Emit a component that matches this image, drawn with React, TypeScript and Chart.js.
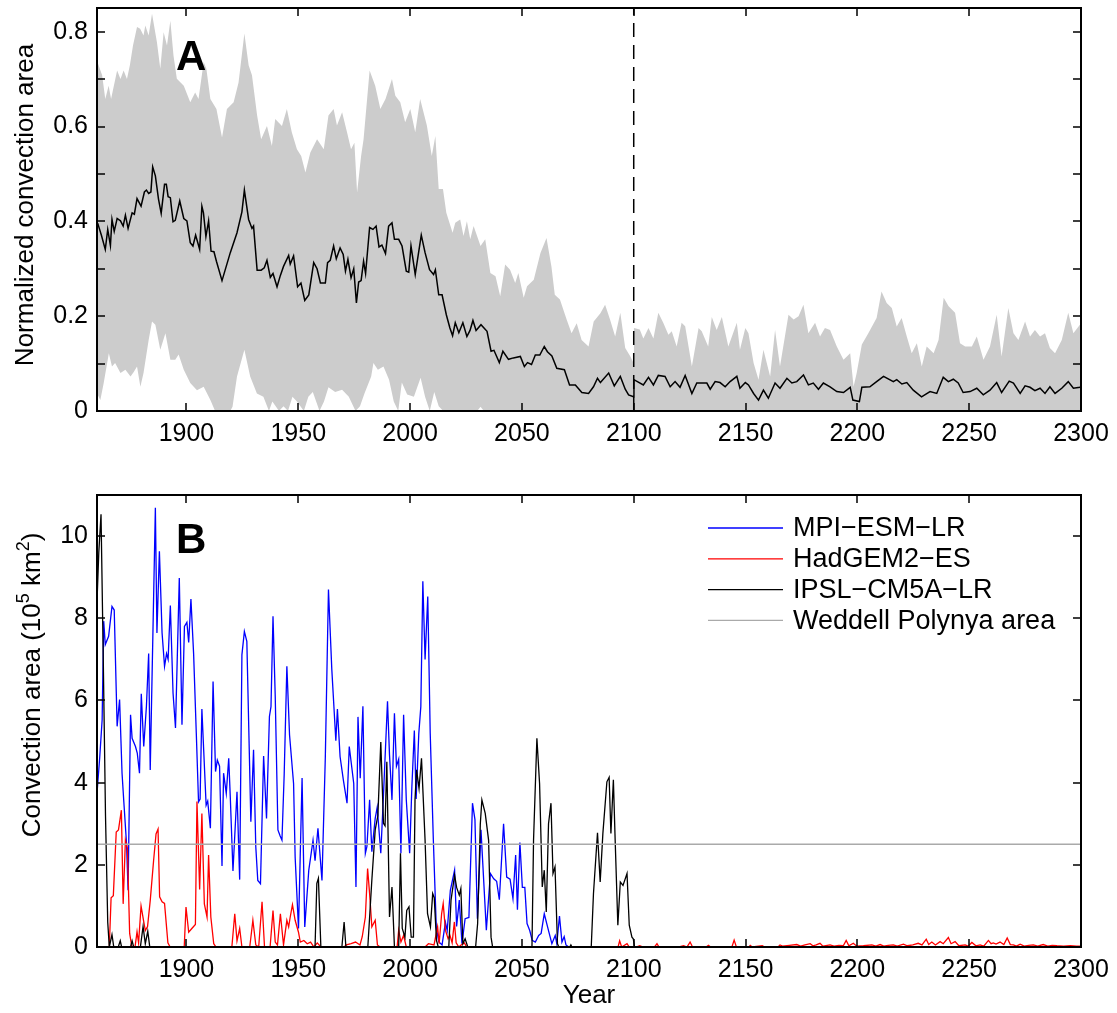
import React, { useEffect, useRef } from "react";
import { Chart, registerables } from "chart.js";

Chart.register(...registerables);

const FONT = '"Liberation Sans", Arial, Helvetica, sans-serif';
Chart.defaults.font.family = FONT;
Chart.defaults.color = "#000";

// ---------- shared axis ticks ----------
const xTicks = [1900, 1950, 2000, 2050, 2100, 2150, 2200, 2250, 2300];
const xLabels = ["1900", "1950", "2000", "2050", "2100", "2150", "2200", "2250", "2300"];

// ---------- panel A ----------
const yTicksA = [0, 0.1, 0.2, 0.3, 0.4, 0.5, 0.6, 0.7, 0.8];
const yLabelsA = ["0", "", "0.2", "", "0.4", "", "0.6", "", "0.8"];
const yTitleA = [{ t: "Normalized convection area", sup: false }];

const meanLine: [number, number][] = [
  [1860.3, 0.396], [1862, 0.37], [1863.7, 0.341], [1864.8, 0.383], [1866, 0.349], [1866.7, 0.404], [1867.7, 0.379],
  [1869, 0.406], [1870.5, 0.401], [1871.7, 0.39], [1872.7, 0.413], [1873.9, 0.385], [1875.7, 0.418], [1876.7, 0.415],
  [1877.9, 0.448], [1879.7, 0.432], [1881.2, 0.462], [1882.1, 0.466], [1883.1, 0.459], [1884.1, 0.462], [1884.9, 0.515],
  [1886.1, 0.496], [1887.5, 0.447], [1888.7, 0.417], [1890.2, 0.478], [1891, 0.478], [1891.8, 0.452], [1892.8, 0.45],
  [1894, 0.399], [1895, 0.402], [1897, 0.443], [1898.8, 0.406], [1900.2, 0.401], [1901.7, 0.355], [1902.9, 0.348],
  [1904.1, 0.371], [1905.9, 0.341], [1906.9, 0.432], [1907.6, 0.418], [1908.7, 0.368], [1909.9, 0.401], [1911, 0.337],
  [1912.3, 0.336], [1913.4, 0.316], [1915.9, 0.275], [1919.6, 0.334], [1922.6, 0.376], [1924.8, 0.42], [1925.9, 0.466],
  [1927.8, 0.404], [1929.3, 0.385], [1930, 0.39], [1931.6, 0.297], [1933.4, 0.297], [1934.8, 0.302], [1936, 0.318],
  [1937.5, 0.282], [1938.7, 0.29], [1940.5, 0.262], [1942, 0.286], [1943.4, 0.305], [1945.7, 0.328], [1946.4, 0.31],
  [1947.9, 0.327], [1949.7, 0.262], [1951.2, 0.27], [1952.9, 0.233], [1954.7, 0.245], [1956.9, 0.313], [1958.4, 0.3],
  [1959.9, 0.27], [1962.1, 0.27], [1963.1, 0.313], [1964.3, 0.318], [1965.8, 0.348], [1967, 0.321], [1968.7, 0.344],
  [1970.1, 0.33], [1971.1, 0.295], [1972.2, 0.32], [1973.6, 0.281], [1974.8, 0.3], [1976, 0.228], [1977, 0.272],
  [1978.1, 0.275], [1979.2, 0.316], [1980.1, 0.29], [1981.9, 0.387], [1983.4, 0.383], [1984.8, 0.39], [1986.1, 0.346],
  [1987.4, 0.35], [1989, 0.332], [1990.4, 0.39], [1991.9, 0.397], [1993, 0.362], [1994.9, 0.362], [1996.4, 0.348],
  [1998.3, 0.295], [1999.4, 0.293], [2000.4, 0.348], [2002.3, 0.288], [2005, 0.371], [2006.7, 0.334], [2008.7, 0.298],
  [2010.5, 0.288], [2011.3, 0.298], [2012.8, 0.245], [2014.3, 0.245], [2016.2, 0.203], [2017.8, 0.175], [2019, 0.159],
  [2020.2, 0.186], [2021.8, 0.165], [2023.6, 0.186], [2025.4, 0.157], [2026.8, 0.17], [2028.1, 0.191], [2029.5, 0.17],
  [2031.7, 0.182], [2034.4, 0.168], [2036.2, 0.126], [2037.5, 0.128], [2039.9, 0.102], [2041.5, 0.126], [2044, 0.109],
  [2046.2, 0.112], [2049.3, 0.115], [2051.1, 0.094], [2052.5, 0.102], [2054.3, 0.098], [2056, 0.118], [2058, 0.118],
  [2060, 0.136], [2061.4, 0.125], [2063.4, 0.116], [2065.6, 0.09], [2069, 0.087], [2071.3, 0.055], [2073.9, 0.055],
  [2076.8, 0.039], [2079.8, 0.037], [2082, 0.051], [2083.8, 0.069], [2085.1, 0.06], [2088.8, 0.08], [2091.3, 0.053],
  [2094, 0.073], [2096.2, 0.046], [2097.7, 0.034], [2099.9, 0.03], [2100.1, 0.066], [2104.3, 0.055], [2106.6, 0.071],
  [2108.8, 0.055], [2111, 0.075], [2114, 0.073], [2116.3, 0.051], [2118.5, 0.062], [2120.7, 0.05], [2123, 0.075],
  [2126, 0.037], [2128.2, 0.059], [2132.7, 0.059], [2134.2, 0.046], [2136.4, 0.062], [2138.6, 0.06], [2140.9, 0.051],
  [2143.1, 0.062], [2146.1, 0.073], [2147.5, 0.048], [2149.9, 0.06], [2151.3, 0.055], [2153.6, 0.037], [2155.8, 0.023],
  [2158, 0.044], [2160.2, 0.027], [2163.2, 0.059], [2165.4, 0.048], [2168.5, 0.069], [2170.7, 0.059], [2172.9, 0.062],
  [2175.9, 0.076], [2178.1, 0.055], [2180.3, 0.059], [2182.6, 0.046], [2184.8, 0.059], [2187.8, 0.051], [2190.8, 0.041],
  [2193.8, 0.039], [2196.8, 0.05], [2198, 0.023], [2200.9, 0.02], [2202, 0.05], [2205.6, 0.051], [2208.6, 0.062],
  [2211.7, 0.073], [2216.1, 0.062], [2217.6, 0.066], [2219.9, 0.057], [2222.1, 0.06], [2225, 0.044], [2228.7, 0.03],
  [2232.5, 0.041], [2235.5, 0.037], [2238.4, 0.071], [2240.7, 0.062], [2242.9, 0.067], [2245.1, 0.059], [2247.3, 0.039],
  [2250.4, 0.041], [2253.4, 0.048], [2256.3, 0.034], [2259.3, 0.044], [2262.3, 0.06], [2264.5, 0.039], [2267.9, 0.063],
  [2269.8, 0.059], [2272.8, 0.037], [2275, 0.053], [2277.2, 0.05], [2279.4, 0.043], [2281.7, 0.048], [2283.9, 0.037],
  [2286.1, 0.051], [2288.4, 0.037], [2291.4, 0.048], [2294.3, 0.062], [2296.6, 0.048], [2299.5, 0.05], [2300, 0.052],
];

const upperBand: [number, number][] = [
  [1860, 0.739], [1862.3, 0.708], [1863.7, 0.658], [1865.2, 0.686], [1866.3, 0.658], [1867.4, 0.683], [1869, 0.718],
  [1870.5, 0.7], [1871.9, 0.718], [1873.4, 0.7], [1874.7, 0.729], [1876.1, 0.771], [1877.9, 0.81], [1879.3, 0.806],
  [1880.8, 0.792], [1881.6, 0.813], [1883.1, 0.792], [1884.6, 0.838], [1886.8, 0.778], [1888.3, 0.722], [1889.8, 0.799],
  [1891.3, 0.771], [1892.8, 0.823], [1894.2, 0.75], [1895.7, 0.701], [1898.8, 0.686], [1901.7, 0.651], [1903.9, 0.672],
  [1905.4, 0.658], [1907.7, 0.736], [1908.9, 0.722], [1910.7, 0.658], [1913.4, 0.637], [1915.9, 0.577], [1918.1, 0.637],
  [1921.1, 0.651], [1923.3, 0.693], [1925.9, 0.796], [1927.8, 0.729], [1929.3, 0.708], [1931.6, 0.623], [1933.4, 0.573],
  [1936, 0.601], [1938.2, 0.559], [1939.7, 0.616], [1942.7, 0.601], [1944.9, 0.637], [1947.1, 0.588], [1949.4, 0.552],
  [1951.3, 0.538], [1953.2, 0.503], [1955.4, 0.545], [1958.4, 0.573], [1961.4, 0.552], [1963.5, 0.623], [1965.8, 0.637],
  [1967.3, 0.602], [1969.6, 0.63], [1971.8, 0.588], [1973.6, 0.552], [1975.1, 0.566], [1976.3, 0.461], [1978.1, 0.538],
  [1979.2, 0.573], [1981.9, 0.718], [1984.4, 0.686], [1986.7, 0.637], [1989, 0.658], [1991.9, 0.7], [1993.4, 0.665],
  [1995.6, 0.651], [1997.8, 0.609], [2000.1, 0.637], [2002.3, 0.588], [2004.5, 0.658], [2007.5, 0.602], [2009.7, 0.538],
  [2011.3, 0.58], [2012.8, 0.468], [2014.7, 0.468], [2016.2, 0.418], [2019, 0.376], [2020.2, 0.397], [2022.4, 0.404],
  [2023.9, 0.369], [2025.4, 0.4], [2026.9, 0.362], [2028.4, 0.39], [2031.5, 0.348], [2033.6, 0.362], [2035.9, 0.291],
  [2038.2, 0.284], [2040.3, 0.242], [2042.5, 0.309], [2044.7, 0.298], [2047, 0.27], [2048.4, 0.291], [2050.8, 0.239],
  [2052.3, 0.263], [2055.3, 0.277], [2058.3, 0.333], [2061, 0.365], [2063.2, 0.305], [2064.7, 0.245], [2067, 0.235],
  [2070, 0.193], [2072.2, 0.164], [2074.5, 0.185], [2076.7, 0.15], [2079.8, 0.136], [2082.1, 0.189], [2085.1, 0.206],
  [2087.2, 0.224], [2089.4, 0.193], [2091.7, 0.157], [2094, 0.207], [2096.2, 0.133], [2098.5, 0.115], [2099.9, 0.101],
  [2100.1, 0.175], [2102.7, 0.172], [2104.3, 0.153], [2106.6, 0.175], [2108.8, 0.153], [2111, 0.207], [2113.2, 0.186],
  [2115.5, 0.161], [2117, 0.168], [2119.2, 0.136], [2121.4, 0.186], [2123, 0.179], [2126, 0.094], [2129, 0.175],
  [2130.4, 0.168], [2133.3, 0.136], [2134.9, 0.198], [2137.1, 0.171], [2139.4, 0.198], [2142.3, 0.136], [2146.1, 0.186],
  [2147.5, 0.129], [2149.9, 0.175], [2151.3, 0.164], [2153.6, 0.101], [2155.8, 0.066], [2158, 0.129], [2161, 0.073],
  [2163.2, 0.171], [2165.4, 0.094], [2169.2, 0.203], [2171.5, 0.193], [2173.7, 0.2], [2175.9, 0.224], [2178.1, 0.164],
  [2181.1, 0.186], [2183.3, 0.157], [2185.5, 0.175], [2187.8, 0.171], [2190.8, 0.136], [2193.8, 0.108], [2196.8, 0.122],
  [2198.3, 0.051], [2199.7, 0.08], [2202, 0.14], [2204.9, 0.164], [2208.6, 0.196], [2210.8, 0.252], [2213.1, 0.228],
  [2215.4, 0.217], [2217.6, 0.178], [2219.8, 0.196], [2222.1, 0.157], [2224.3, 0.122], [2226.6, 0.143], [2228.8, 0.094],
  [2231, 0.136], [2234.1, 0.122], [2236.3, 0.15], [2238.6, 0.239], [2240.8, 0.221], [2243.7, 0.207], [2245.9, 0.143],
  [2248.2, 0.136], [2251.2, 0.136], [2253.4, 0.157], [2256.4, 0.108], [2259.3, 0.136], [2262.3, 0.203], [2264.5, 0.115],
  [2267.5, 0.217], [2269.8, 0.164], [2272, 0.15], [2275, 0.189], [2277.2, 0.157], [2279.4, 0.171], [2281.7, 0.157],
  [2283.9, 0.164], [2286.1, 0.133], [2288.4, 0.122], [2291.4, 0.15], [2294.3, 0.207], [2296.6, 0.164], [2299.5, 0.182],
  [2300, 0.175],
];

const lowerBand: [number, number][] = [
  [1860, 0.037], [1861.5, 0.023], [1863, 0.059], [1865.3, 0.122], [1866.7, 0.094], [1868.1, 0.101], [1870.5, 0.08],
  [1872.7, 0.087], [1875, 0.073], [1876.5, 0.083], [1877.9, 0.094], [1879.4, 0.051], [1880.8, 0.08], [1883.1, 0.15],
  [1884.6, 0.189], [1886.1, 0.182], [1888.3, 0.129], [1890.6, 0.164], [1892.8, 0.108], [1895, 0.108], [1896.5, 0.119],
  [1898.8, 0.087], [1901.7, 0.059], [1904.7, 0.044], [1907.7, 0.051], [1910.7, 0.023], [1912.8, 0], [1919.6, 0],
  [1920.6, 0.009], [1922.6, 0.073], [1925.9, 0.129], [1928.5, 0.073], [1931.5, 0.037], [1934.4, 0.03], [1936.9, 0],
  [1938.4, 0.02], [1941.4, 0], [1943.4, 0.01], [1945.4, 0], [1947.4, 0.03], [1949.4, 0.02], [1952.5, 0], [1954.5, 0.03],
  [1956.5, 0.04], [1959.5, 0], [1961.5, 0.02], [1963.5, 0.05], [1966.5, 0.04], [1969.6, 0.045], [1972.6, 0.03],
  [1975.6, 0], [1977.6, 0.01], [1979.6, 0.037], [1982.6, 0.073], [1983.6, 0.101], [1985.6, 0.087], [1988.1, 0.094],
  [1990.6, 0.066], [1992.7, 0.02], [1994.7, 0], [1996.3, 0.06], [1998.7, 0.035], [2001.7, 0.03], [2004.7, 0.07],
  [2006.7, 0.03], [2008.8, 0], [2010.8, 0.04], [2012.8, 0.01], [2014.8, 0], [2030, 0], [2031.5, 0.009], [2033, 0],
  [2300, 0],
];

const scenarioBreak: [number, number][] = [[2100, 0], [2100, 0.85]];

// ---------- panel B ----------
const yTicksB = [0, 2, 4, 6, 8, 10];
const yLabelsB = ["0", "2", "4", "6", "8", "10"];
const yTitleB = [
  { t: "Convection area (10", sup: false },
  { t: "5", sup: true },
  { t: " km", sup: false },
  { t: "2", sup: true },
  { t: ")", sup: false },
];

const mpiSeries: [number, number][] = [
  [1860, 3.74], [1861.2, 4.6], [1862.3, 5.53], [1863, 7.93], [1863.7, 7.36], [1865.2, 7.56], [1866.7, 8.29],
  [1867.7, 8.2], [1869, 5.37], [1870.1, 6.02], [1871.2, 4.23], [1872, 3.53], [1873.2, 2.52], [1873.9, 1.38],
  [1875, 5.65], [1875.7, 5.08], [1877.2, 4.88], [1878, 4.72], [1879, 4.23], [1879.8, 6.16], [1880.9, 4.88],
  [1882.1, 5.86], [1883.1, 7.14], [1883.8, 4.31], [1886.1, 10.69], [1886.8, 7.64], [1887.9, 9.63], [1889.1, 7.64],
  [1890.2, 6.83], [1891.1, 7.14], [1891.8, 7.0], [1892.8, 8.31], [1894, 6.18], [1895.1, 5.33], [1896.8, 8.98],
  [1898, 5.41], [1899.1, 7.8], [1900.2, 7.9], [1901, 7.41], [1902, 8.47], [1903.2, 7.14], [1904.4, 5.2],
  [1905.4, 3.53], [1906.1, 3.6], [1906.9, 5.79], [1907.7, 4.8], [1908.8, 3.45], [1909.5, 3.55], [1910.7, 2.89],
  [1911.9, 6.46], [1913, 4.27], [1913.8, 4.55], [1914.8, 4.4], [1915.9, 1.97], [1916.6, 4.23], [1917.8, 3.74],
  [1918.9, 4.59], [1919.6, 3.65], [1920.8, 1.85], [1922.6, 3.78], [1923.8, 1.64], [1924.8, 7.11], [1925.9, 7.68],
  [1927, 7.44], [1928.8, 3.05], [1930, 4.8], [1931, 2.44], [1931.9, 1.62], [1933.1, 1.54], [1934.5, 4.65],
  [1935.8, 3.13], [1937.1, 5.61], [1937.8, 5.85], [1938.7, 8.05], [1939.7, 6.09], [1940.9, 2.85], [1941.9, 2.7],
  [1942.7, 2.6], [1943.7, 4.2], [1944.9, 6.83], [1946.1, 5.16], [1947.9, 3.98], [1948.6, 2.19], [1950.1, 0.45],
  [1951.7, 4.11], [1952.9, 0.49], [1954.7, 1.87], [1956.6, 2.6], [1957.5, 2.1], [1958.8, 2.89], [1960.6, 1.62],
  [1962.1, 4.63], [1963.5, 8.7], [1965, 6.75], [1966.8, 5.02], [1967.5, 5.79], [1968.7, 4.63], [1970.2, 4.05],
  [1971.8, 3.5], [1972.8, 4.88], [1974.8, 3.98], [1975.8, 1.46], [1976.7, 5.6], [1977.7, 4.11], [1978.9, 5.86],
  [1980, 2.28], [1980.7, 2.45], [1981.9, 3.58], [1982.9, 2.32], [1984.4, 3.13], [1985.3, 3.4], [1986.9, 2.28],
  [1988.1, 3.7], [1989.9, 5.98], [1990.8, 4.67], [1991.9, 3.58], [1993, 5.69], [1993.9, 4.4], [1994.9, 4.57],
  [1995.9, 2.28], [1997.1, 5.65], [1998.3, 3.58], [1999.8, 2.28], [2000.8, 3.9], [2001.9, 5.27], [2002.7, 3.6],
  [2003.9, 5.2], [2004.8, 5.85], [2005.7, 8.9], [2006.7, 7.0], [2007.9, 8.53], [2009, 5.2], [2010.4, 2.6],
  [2011.7, 0.49], [2012.8, 0.13], [2014.3, 0.05], [2015.8, 0.6], [2016.6, 0.4], [2018, 1.38], [2019.9, 1.87],
  [2020.8, 0.5], [2022, 1.14], [2023.2, 0.08], [2024.6, 0.69], [2026.3, 0.72], [2027.9, 3.5], [2029, 3.1],
  [2030.1, 0.69], [2031.7, 2.85], [2034.1, 0.41], [2035.9, 1.79], [2037.4, 1.66], [2038.7, 1.6], [2039.9, 1.15],
  [2041.8, 3.0], [2043.2, 1.7], [2044.7, 1.65], [2046, 1.18], [2047.2, 2.24], [2048, 0.91], [2049.1, 2.54],
  [2050.2, 1.45], [2051.3, 1.45], [2052.3, 0.57], [2053.5, 0.4], [2054.6, 0.16], [2056, 0.12], [2057.5, 0.28],
  [2058.6, 0.33], [2060, 0.81], [2061.9, 0.4], [2063.4, 0.08], [2064.9, 0.28], [2065.6, 0.08], [2066.8, 0.75],
  [2067.9, 0.12], [2068.9, 0.25], [2069.7, 0.05], [2071, 0], [2300, 0],
];

const hadgemSeries: [number, number][] = [
  [1860, 0], [1865.5, 0], [1866.3, 1.2], [1867.3, 1.25], [1868.6, 2.8], [1869.6, 2.85], [1870.9, 3.33],
  [1871.7, 1.05], [1872.7, 2.6], [1873.6, 2.4], [1874.6, 0.33], [1875.6, 0], [1877, 0], [1877.9, 0.37],
  [1878.6, 0.1], [1879.7, 1.0], [1880.8, 0.65], [1881.6, 0.4], [1882.6, 0.5], [1883.8, 1.13], [1885.3, 2.1],
  [1886.4, 2.75], [1887.3, 2.87], [1888, 1.22], [1889.1, 1.1], [1890.2, 1.06], [1891.7, 0.1], [1892.7, 0],
  [1899, 0], [1899.8, 0.97], [1901, 0.36], [1902.4, 0.45], [1904, 0.55], [1904.7, 3.54], [1905.9, 1.4],
  [1906.9, 3.25], [1908, 1.05], [1909.2, 0.73], [1909.9, 2.24], [1910.9, 0.73], [1912.2, 0.08], [1913.2, 0],
  [1920.3, 0], [1921.6, 0.81], [1922.6, 0.15], [1923.8, 0.45], [1924.8, 0], [1928.3, 0], [1929.7, 0.65],
  [1931, 0.05], [1932.3, 0], [1933.8, 1.1], [1934.9, 0], [1937.4, 0], [1938.7, 0.89], [1939.7, 0.12],
  [1940.7, 0.05], [1942, 0.81], [1943.4, 0.05], [1944.9, 0.65], [1945.7, 0.49], [1946.4, 0.73], [1947.4, 1.03],
  [1948.6, 0.65], [1950.1, 0.36], [1950.9, 0.12], [1952.5, 0.16], [1954, 0.08], [1955.5, 0.12], [1957, 0],
  [1958.5, 0.1], [1960.1, 0], [1970.5, 0], [1971.5, 0.05], [1973.6, 0.08], [1975.6, 0.12], [1977.6, 0.05],
  [1978.6, 0.25], [1980, 0.73], [1981, 1.91], [1981.9, 1.3], [1982.9, 0.49], [1984.4, 0.65], [1985.4, 0.05],
  [1986.6, 0], [1994.2, 0], [1994.9, 0.41], [1995.9, 0.12], [1997.1, 0.28], [1998.3, 0], [2006.7, 0],
  [2008.2, 0.08], [2010.7, 0.05], [2012.3, 0.49], [2013, 0.08], [2014.1, 0.81], [2014.8, 1.06], [2015.8, 0.41],
  [2017, 0.2], [2017.8, 0.29], [2018.8, 0.1], [2019.8, 0.61], [2020.6, 0.1], [2021.8, 0], [2022.8, 0.05],
  [2024.3, 0.1], [2025.3, 0], [2093, 0], [2093.7, 0.15], [2094.6, 0], [2097, 0.08], [2098, 0], [2101, 0],
  [2102.7, 0.03], [2104.2, 0], [2109.3, 0], [2110.4, 0.08], [2111.3, 0], [2120.3, 0], [2122.3, 0.03], [2123.8, 0],
  [2125.2, 0.12], [2126.3, 0], [2132.4, 0], [2133.4, 0.04], [2134.4, 0], [2143.9, 0], [2144.9, 0.17], [2145.9, 0],
  [2151.5, 0], [2152.1, 0.04], [2153, 0], [2157.5, 0.03], [2158.5, 0], [2164.5, 0], [2165.4, 0.05], [2166.5, 0.02],
  [2169.6, 0.04], [2172.9, 0.06], [2174.6, 0.02], [2176.6, 0.05], [2178.9, 0.08], [2180.1, 0.03], [2181.6, 0.05],
  [2183.3, 0.09], [2184.6, 0.02], [2187.8, 0.05], [2189.6, 0.02], [2191.7, 0.04], [2193.7, 0.03], [2195, 0.16],
  [2196.2, 0.03], [2198.2, 0.09], [2199.7, 0.02], [2202.7, 0.03], [2206.5, 0.05], [2208.3, 0.02], [2210.2, 0.06],
  [2211.8, 0.02], [2213.8, 0.04], [2216.1, 0.05], [2217.8, 0.02], [2220.6, 0.07], [2222.3, 0.03], [2224.8, 0.05],
  [2227.2, 0.09], [2228.9, 0.05], [2230.8, 0.19], [2231.9, 0.06], [2233.3, 0.12], [2234.9, 0.05], [2237, 0.13],
  [2238.4, 0.08], [2240.7, 0.23], [2241.9, 0.08], [2243.7, 0.13], [2245.4, 0.03], [2248.2, 0.05], [2249.5, 0.02],
  [2251.2, 0.11], [2253, 0.03], [2254.9, 0.05], [2256.5, 0.02], [2258.6, 0.16], [2259.8, 0.08], [2260.8, 0.1],
  [2262, 0.07], [2263.8, 0.12], [2265.5, 0.06], [2267, 0.22], [2268.4, 0.06], [2269.8, 0.05], [2271.1, 0.02],
  [2272.8, 0.07], [2274.6, 0.02], [2276.6, 0.04], [2278.7, 0.05], [2280.6, 0.02], [2283.1, 0.06], [2285.1, 0.02],
  [2287.1, 0.04], [2289.2, 0.03], [2292.2, 0.02], [2295.2, 0.03], [2298, 0.02], [2300, 0.02],
];

const ipslSeries: [number, number][] = [
  [1860, 8.4], [1860.8, 9.6], [1861.8, 10.53], [1862.8, 7.0], [1863.8, 3.2], [1864.8, 0.6], [1865.5, 0],
  [1866.7, 0.3], [1867.5, 0], [1869.5, 0], [1870.4, 0.15], [1871, 0], [1875, 0], [1875.7, 0.15], [1876.4, 0],
  [1879.4, 0], [1880.6, 0.5], [1881.6, 0.08], [1882.7, 0.38], [1883.6, 0], [1957.5, 0], [1958.3, 1.55],
  [1959, 1.67], [1960.1, 0], [1969.5, 0], [1970.5, 0.61], [1971.3, 0], [1981.1, 0], [1982.9, 1.63],
  [1984.4, 2.85], [1985.6, 3.2], [1986.9, 4.99], [1988.1, 3.01], [1988.8, 2.95], [1989.6, 4.51], [1990.8, 0.73],
  [1991.9, 1.46], [1993, 0], [1994.9, 0], [1995.7, 2.28], [1996.5, 0.45], [1997.7, 0.24], [1998.5, 0.89],
  [1999.5, 0.98], [2000.5, 0.24], [2001.5, 0.24], [2002.2, 3.58], [2002.9, 4.31], [2004, 3.86], [2005.1, 4.59],
  [2006.7, 2.6], [2007.8, 0.81], [2009.1, 0.49], [2010.1, 1.3], [2010.8, 1.2], [2011.8, 0.16], [2012.6, 0],
  [2017.3, 0], [2018.3, 1.14], [2019.9, 1.75], [2020.8, 1.45], [2022, 1.26], [2022.7, 1.42], [2023.6, 0.08],
  [2024.6, 0.2], [2025.8, 0], [2029.3, 0], [2030.2, 0.57], [2031.4, 3.0], [2032.1, 3.58], [2033.6, 3.25],
  [2035.1, 2.6], [2036.2, 0.24], [2036.9, 0], [2054.5, 0], [2055.2, 2.6], [2056.7, 5.08], [2057.9, 3.98],
  [2059.1, 1.46], [2060, 1.87], [2060.9, 0.85], [2061.9, 3.0], [2063, 3.5], [2063.9, 1.79], [2064.8, 1.95],
  [2065.9, 0.08], [2066.5, 0], [2071.4, 0], [2071.9, 0.05], [2072.4, 0], [2081, 0], [2082, 1.3], [2083.8, 2.78],
  [2085, 1.58], [2086.2, 2.76], [2088, 4.02], [2089, 4.13], [2089.8, 2.76], [2090.9, 4.07], [2091.7, 2.6],
  [2092.9, 0.53], [2094, 1.58], [2095.2, 1.5], [2097, 1.79], [2098, 0.53], [2099.2, 0.24], [2099.8, 0.2],
  [2100.4, 0], [2300, 0],
];

const weddellArea: [number, number][] = [[1860, 2.5], [2300, 2.5]];

const seriesNamesB = ["MPI\u2212ESM\u2212LR", "HadGEM2\u2212ES", "IPSL\u2212CM5A\u2212LR", "Weddell Polynya area"];
const seriesColorsB = ["#0000ff", "#ff0000", "#000000", "#aaaaaa"];

// ---------- helpers ----------
const toXY = (pairs: [number, number][]) => pairs.map(([x, y]) => ({ x, y }));

type Part = { t: string; sup: boolean };

function drawRotatedTitle(ctx: CanvasRenderingContext2D, parts: Part[], baseX: number, cy: number, size: number) {
  const supSize = Math.round(size * 0.68);
  ctx.save();
  ctx.translate(baseX, cy);
  ctx.rotate(-Math.PI / 2);
  ctx.fillStyle = "#000";
  ctx.textBaseline = "alphabetic";
  ctx.textAlign = "left";
  let total = 0;
  for (const p of parts) {
    ctx.font = `${p.sup ? supSize : size}px ${FONT}`;
    total += ctx.measureText(p.t).width;
  }
  let x = -total / 2;
  for (const p of parts) {
    ctx.font = `${p.sup ? supSize : size}px ${FONT}`;
    ctx.fillText(p.t, x, p.sup ? -size * 0.42 : 0);
    x += ctx.measureText(p.t).width;
  }
  ctx.restore();
}

function makeFramePlugin(cfg: {
  id: string;
  yTicks: number[];
  letter: string;
  letterX: number;
  letterY: number;
  title: Part[];
  titleX: number;
  titleY: number;
  legend?: boolean;
}) {
  return {
    id: cfg.id,
    afterDatasetsDraw(chart: any) {
      const { ctx, chartArea, scales } = chart;
      const { left, right, top, bottom } = chartArea;
      const L = 8;
      ctx.save();
      ctx.strokeStyle = "#000";
      ctx.lineWidth = 1.5;
      ctx.setLineDash([]);
      ctx.beginPath();
      for (const v of xTicks) {
        const px = Math.round(scales.x.getPixelForValue(v));
        ctx.moveTo(px, bottom);
        ctx.lineTo(px, bottom - L);
        ctx.moveTo(px, top);
        ctx.lineTo(px, top + L);
      }
      for (const v of cfg.yTicks) {
        const py = Math.round(scales.y.getPixelForValue(v));
        ctx.moveTo(left, py);
        ctx.lineTo(left + L, py);
        ctx.moveTo(right, py);
        ctx.lineTo(right - L, py);
      }
      ctx.stroke();
      ctx.lineWidth = 2;
      ctx.strokeRect(left, top, right - left, bottom - top);

      ctx.fillStyle = "#000";
      ctx.font = `bold 42px ${FONT}`;
      ctx.textAlign = "left";
      ctx.textBaseline = "alphabetic";
      ctx.fillText(cfg.letter, cfg.letterX, cfg.letterY);

      if (cfg.legend) {
        const ds = chart.data.datasets;
        const x0 = 708;
        const x1 = 783;
        const tx = 793;
        ctx.font = `27px ${FONT}`;
        ctx.textBaseline = "middle";
        for (let i = 0; i < ds.length; i++) {
          const y = top + 33 + i * 30.8;
          ctx.strokeStyle = ds[i].borderColor;
          ctx.lineWidth = 1.3;
          ctx.beginPath();
          ctx.moveTo(x0, y);
          ctx.lineTo(x1, y);
          ctx.stroke();
          ctx.fillStyle = "#000";
          ctx.fillText(ds[i].label, tx, y + 1);
        }
      }
      ctx.restore();
      drawRotatedTitle(ctx, cfg.title, cfg.titleX, cfg.titleY, 26);
    },
  };
}

function xScale(height: number, withTitle: boolean) {
  return {
    type: "linear" as const,
    min: 1860,
    max: 2300,
    grid: { display: false, drawTicks: false },
    border: { display: false },
    afterBuildTicks: (s: any) => {
      s.ticks = xTicks.map((v) => ({ value: v }));
    },
    afterFit: (s: any) => {
      s.height = height;
      s.paddingLeft = 0;
      s.paddingRight = 0;
      s.paddingTop = 0;
      s.paddingBottom = 0;
    },
    ticks: {
      autoSkip: false,
      maxRotation: 0,
      minRotation: 0,
      padding: 8,
      font: { size: 25 },
      color: "#000",
      callback: (_v: any, i: number) => xLabels[i],
    },
    title: withTitle
      ? { display: true, text: "Year", font: { size: 26 }, color: "#000", padding: { top: 0, bottom: 2 } }
      : { display: false },
  };
}

function yScale(max: number, ticks: number[], labels: string[]) {
  return {
    type: "linear" as const,
    min: 0,
    max,
    grid: { display: false, drawTicks: false },
    border: { display: false },
    afterBuildTicks: (s: any) => {
      s.ticks = ticks.map((v) => ({ value: v }));
    },
    afterFit: (s: any) => {
      s.width = 97;
      s.paddingLeft = 0;
      s.paddingRight = 0;
      s.paddingTop = 0;
      s.paddingBottom = 0;
    },
    ticks: {
      autoSkip: false,
      padding: 9,
      font: { size: 25 },
      color: "#000",
      callback: (_v: any, i: number) => labels[i],
    },
  };
}

export default function App() {
  const refA = useRef<HTMLCanvasElement>(null);
  const refB = useRef<HTMLCanvasElement>(null);

  useEffect(() => {
    const chartA = new Chart(refA.current as HTMLCanvasElement, {
      type: "line",
      data: {
        datasets: [
          {
            label: "upper",
            data: toXY(upperBand),
            borderWidth: 0,
            borderColor: "rgba(0,0,0,0)",
            backgroundColor: "#cccccc",
            pointRadius: 0,
            fill: 1,
            order: 3,
          },
          {
            label: "lower",
            data: toXY(lowerBand),
            borderWidth: 0,
            borderColor: "rgba(0,0,0,0)",
            pointRadius: 0,
            fill: false,
            order: 2,
          },
          {
            label: "mean",
            data: toXY(meanLine),
            borderColor: "#000",
            borderWidth: 1.5,
            pointRadius: 0,
            fill: false,
            order: 1,
          },
          {
            label: "2100",
            data: toXY(scenarioBreak),
            borderColor: "#000",
            borderWidth: 1.5,
            borderDash: [14, 8],
            pointRadius: 0,
            fill: false,
            order: 0,
          },
        ],
      } as any,
      options: {
        responsive: false,
        animation: false,
        events: [],
        layout: { padding: { top: 8, right: 36, bottom: 0, left: 0 } },
        plugins: { legend: { display: false }, tooltip: { enabled: false } },
        scales: {
          x: xScale(59, false),
          y: yScale(0.85, yTicksA, yLabelsA),
        } as any,
      },
      plugins: [
        makeFramePlugin({
          id: "frameA",
          yTicks: yTicksA,
          letter: "A",
          letterX: 176,
          letterY: 70,
          title: yTitleA,
          titleX: 33,
          titleY: 205,
        }),
      ],
    });

    const chartB = new Chart(refB.current as HTMLCanvasElement, {
      type: "line",
      data: {
        datasets: [
          { label: seriesNamesB[0], data: toXY(mpiSeries), borderColor: seriesColorsB[0], borderWidth: 1.3, pointRadius: 0, fill: false, order: 4 },
          { label: seriesNamesB[1], data: toXY(hadgemSeries), borderColor: seriesColorsB[1], borderWidth: 1.3, pointRadius: 0, fill: false, order: 3 },
          { label: seriesNamesB[2], data: toXY(ipslSeries), borderColor: seriesColorsB[2], borderWidth: 1.3, pointRadius: 0, fill: false, order: 2 },
          { label: seriesNamesB[3], data: toXY(weddellArea), borderColor: seriesColorsB[3], borderWidth: 1.3, pointRadius: 0, fill: false, order: 1 },
        ],
      } as any,
      options: {
        responsive: false,
        animation: false,
        events: [],
        layout: { padding: { top: 25, right: 36, bottom: 0, left: 0 } },
        plugins: { legend: { display: false }, tooltip: { enabled: false } },
        scales: {
          x: xScale(66, true),
          y: yScale(11, yTicksB, yLabelsB),
        } as any,
      },
      plugins: [
        makeFramePlugin({
          id: "frameB",
          yTicks: yTicksB,
          letter: "B",
          letterX: 176,
          letterY: 83,
          title: yTitleB,
          titleX: 40,
          titleY: 215,
          legend: true,
        }),
      ],
    });

    return () => {
      chartA.destroy();
      chartB.destroy();
    };
  }, []);

  return (
    <div style={{ position: "absolute", left: 0, top: 0, width: 1117, height: 1013, background: "#fff" }}>
      <canvas ref={refA} width={1117} height={470} style={{ position: "absolute", left: 0, top: 0 }} />
      <canvas ref={refB} width={1117} height={543} style={{ position: "absolute", left: 0, top: 470 }} />
    </div>
  );
}
